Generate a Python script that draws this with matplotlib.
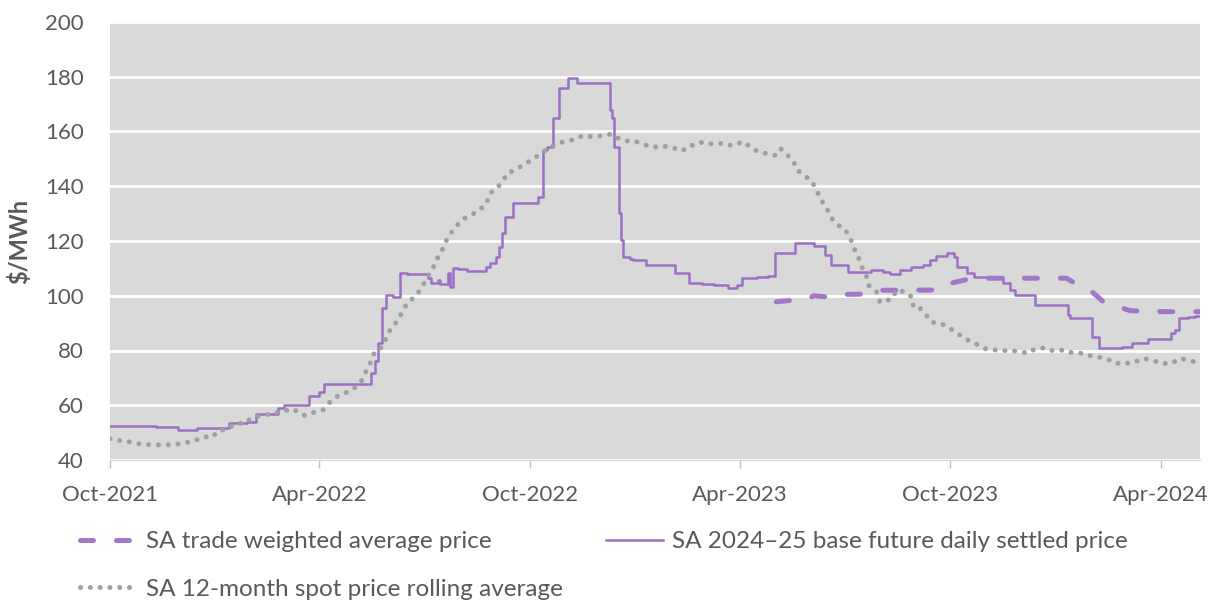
import matplotlib

matplotlib.use("Agg")
import matplotlib.dates as mdates
import matplotlib.pyplot as plt
import pandas as pd

# SA 2024-25 base future daily settled price (step changes)
future_dates = [
    "2021-10-01", "2021-11-10", "2021-11-29", "2021-12-16", "2022-01-12",
    "2022-01-28", "2022-02-05", "2022-02-24", "2022-03-01", "2022-03-23",
    "2022-04-01", "2022-04-05", "2022-05-16", "2022-05-19", "2022-05-22",
    "2022-05-25", "2022-05-29", "2022-06-04", "2022-06-10", "2022-06-16",
    "2022-06-29", "2022-07-04", "2022-07-07", "2022-07-13", "2022-07-15",
    "2022-07-22", "2022-07-23", "2022-07-26", "2022-07-30", "2022-08-07",
    "2022-08-24", "2022-08-27", "2022-09-01", "2022-09-04", "2022-09-07",
    "2022-09-09", "2022-09-16", "2022-10-08", "2022-10-12", "2022-10-16",
    "2022-10-21", "2022-10-26", "2022-11-03", "2022-11-11", "2022-12-09",
    "2022-12-11", "2022-12-13", "2022-12-17", "2022-12-19", "2022-12-21",
    "2022-12-27", "2022-12-29", "2023-01-10", "2023-02-04", "2023-02-16",
    "2023-02-27", "2023-03-10", "2023-03-22", "2023-03-30", "2023-04-03",
    "2023-04-16", "2023-04-26", "2023-05-02", "2023-05-19", "2023-06-05",
    "2023-06-14", "2023-06-19", "2023-07-04", "2023-07-24", "2023-08-04",
    "2023-08-10", "2023-08-18", "2023-08-28", "2023-09-07", "2023-09-13",
    "2023-09-19", "2023-09-28", "2023-10-04", "2023-10-07", "2023-10-16",
    "2023-10-22", "2023-11-16", "2023-11-22", "2023-11-26", "2023-12-14",
    "2024-01-11", "2024-01-13", "2024-02-01", "2024-02-07", "2024-02-27",
    "2024-03-07", "2024-03-21", "2024-04-10", "2024-04-13", "2024-04-17",
    "2024-04-25", "2024-05-01", "2024-05-05",
]
future_price = [
    52.5, 52.2, 51.0, 51.8, 53.4,
    53.9, 56.7, 58.9, 60.1, 63.5,
    65.0, 67.9, 71.7, 76.0, 82.6,
    95.7, 100.2, 99.6, 108.4, 108.1,
    107.8, 106.4, 104.8, 105.8, 104.4,
    108.3, 103.1, 110.0, 109.6, 109.0,
    110.6, 112.1, 114.3, 117.9, 123.0,
    128.9, 133.8, 136.0, 153.2, 154.2,
    164.8, 175.8, 179.4, 177.8, 167.9,
    164.8, 154.5, 130.1, 120.4, 114.3,
    113.6, 113.0, 111.2, 108.2, 104.5,
    104.2, 103.8, 103.0, 103.8, 106.6,
    107.0, 107.2, 115.5, 119.4, 118.2,
    114.9, 111.2, 108.8, 109.4, 108.8,
    107.8, 109.4, 110.5, 111.2, 113.1,
    114.5, 115.5, 114.3, 110.6, 108.4,
    107.0, 104.5, 102.1, 100.3, 96.6,
    93.0, 91.8, 85.0, 80.8, 81.4,
    82.6, 84.2, 86.3, 87.6, 91.8,
    92.2, 92.7, 92.7,
]

# SA trade weighted average price
trade_dates = [
    "2023-05-03", "2023-05-18", "2023-05-29", "2023-06-05", "2023-06-18",
    "2023-07-01", "2023-07-20", "2023-08-01", "2023-09-22", "2023-10-01",
    "2023-10-16", "2023-10-27", "2024-01-10", "2024-01-20", "2024-02-01",
    "2024-02-11", "2024-02-22", "2024-03-05", "2024-03-18", "2024-05-05",
]
trade_price = [
    97.8, 98.4, 98.8, 100.0, 99.5,
    100.5, 100.6, 102.0, 102.1, 104.5,
    106.0, 106.4, 106.4, 103.9, 101.5,
    97.8, 96.2, 94.6, 94.2, 94.2,
]

# SA 12-month spot price rolling average
spot_dates = [
    "2021-10-01", "2021-10-05", "2021-10-14", "2021-10-23", "2021-10-31",
    "2021-11-09", "2021-11-17", "2021-11-27", "2021-12-05", "2021-12-13",
    "2021-12-21", "2021-12-29", "2022-01-03", "2022-01-11", "2022-01-18",
    "2022-01-26", "2022-02-02", "2022-02-10", "2022-02-19", "2022-02-28",
    "2022-03-07", "2022-03-14", "2022-03-19", "2022-03-27", "2022-04-04",
    "2022-04-10", "2022-04-17", "2022-04-25", "2022-05-02", "2022-05-08",
    "2022-05-12", "2022-05-16", "2022-05-19", "2022-05-26", "2022-05-29",
    "2022-06-02", "2022-06-08", "2022-06-12", "2022-06-16", "2022-06-23",
    "2022-06-29", "2022-07-03", "2022-07-08", "2022-07-11", "2022-07-16",
    "2022-07-19", "2022-07-24", "2022-07-29", "2022-08-03", "2022-08-11",
    "2022-08-18", "2022-08-24", "2022-08-27", "2022-09-01", "2022-09-07",
    "2022-09-11", "2022-09-18", "2022-09-25", "2022-10-03", "2022-10-10",
    "2022-10-17", "2022-10-25", "2022-11-02", "2022-11-09", "2022-11-16",
    "2022-11-24", "2022-12-03", "2022-12-11", "2022-12-18", "2022-12-25",
    "2023-01-01", "2023-01-08", "2023-01-15", "2023-01-24", "2023-02-02",
    "2023-02-08", "2023-02-16", "2023-02-21", "2023-03-01", "2023-03-09",
    "2023-03-18", "2023-03-26", "2023-04-04", "2023-04-10", "2023-04-17",
    "2023-04-26", "2023-05-03", "2023-05-07", "2023-05-13", "2023-05-18",
    "2023-05-21", "2023-05-27", "2023-06-03", "2023-06-07", "2023-06-11",
    "2023-06-16", "2023-06-20", "2023-06-26", "2023-07-01", "2023-07-06",
    "2023-07-09", "2023-07-13", "2023-07-16", "2023-07-20", "2023-07-22",
    "2023-07-29", "2023-08-01", "2023-08-08", "2023-08-12", "2023-08-15",
    "2023-08-22", "2023-08-29", "2023-08-30", "2023-09-04", "2023-09-10",
    "2023-09-15", "2023-09-23", "2023-09-30", "2023-10-08", "2023-10-15",
    "2023-10-22", "2023-10-30", "2023-11-07", "2023-11-13", "2023-11-21",
    "2023-11-29", "2023-12-07", "2023-12-13", "2023-12-22", "2023-12-30",
    "2024-01-08", "2024-01-16", "2024-01-24", "2024-02-02", "2024-02-10",
    "2024-02-18", "2024-02-21", "2024-02-29", "2024-03-08", "2024-03-16",
    "2024-03-24", "2024-04-02", "2024-04-10", "2024-04-18", "2024-04-26",
    "2024-05-04",
]
spot_price = [
    47.8, 47.3, 47.0, 46.1, 45.7,
    45.5, 45.5, 45.7, 46.3, 46.9,
    48.5, 48.3, 50.7, 51.3, 53.4,
    53.4, 55.6, 56.2, 57.0, 57.6,
    58.7, 57.6, 56.3, 57.4, 58.3,
    61.1, 63.4, 64.8, 66.5, 69.2,
    72.9, 76.2, 79.6, 81.4, 84.8,
    88.0, 90.9, 94.2, 97.2, 99.7,
    102.9, 106.4, 109.4, 112.7, 116.1,
    119.3, 122.8, 125.5, 127.9, 129.5,
    131.4, 133.5, 137.4, 138.9, 141.6,
    144.7, 145.9, 147.8, 149.8, 151.8,
    153.9, 155.7, 156.5, 157.1, 158.6,
    158.1, 158.4, 159.1, 157.1, 156.5,
    156.3, 155.3, 154.2, 154.7, 154.2,
    152.9, 153.9, 155.7, 156.1, 155.3,
    155.7, 154.8, 156.3, 154.5, 152.6,
    151.8, 151.2, 153.6, 151.2, 149.0,
    145.9, 144.1, 141.6, 138.4, 135.0,
    131.6, 128.3, 125.7, 124.5, 121.4,
    117.7, 114.3, 110.6, 107.5, 103.8,
    101.5, 97.6, 98.4, 99.1, 102.0,
    101.5, 99.4, 95.8, 95.8, 93.0,
    90.3, 89.9, 88.3, 86.0, 84.1,
    82.8, 80.8, 80.2, 80.2, 79.8,
    79.8, 79.0, 80.4, 81.0, 79.8,
    80.2, 79.0, 79.0, 77.8, 77.4,
    76.3, 75.3, 75.3, 75.5, 77.1,
    76.5, 75.3, 75.3, 77.1, 76.3,
    75.5,
]

x_ticks = ["2021-10-01", "2022-04-01", "2022-10-01", "2023-04-01", "2023-10-01", "2024-04-01"]
y_ticks = [40, 60, 80, 100, 120, 140, 160, 180, 200]

PURPLE = "#9A6FC4"
GREY_DOTS = "#A0A0A0"
TEXT = "#595959"

plt.rcParams["font.family"] = ["Lato", "DejaVu Sans"]

fig = plt.figure(figsize=(12.16, 6.03), dpi=100)
ax = fig.add_axes([110 / 1216, 1 - 460 / 603, 1090 / 1216, 438 / 603])
ax.set_facecolor("#D9D9D9")

(future_line,) = ax.plot(
    pd.to_datetime(future_dates), future_price, drawstyle="steps-post",
    color=PURPLE, lw=1.8, zorder=3,
)
(trade_line,) = ax.plot(
    pd.to_datetime(trade_dates), trade_price, color="#9F78C8", lw=3.6,
    dashes=(2.6, 4.6), dash_capstyle="round", zorder=4,
)
(spot_line,) = ax.plot(
    pd.to_datetime(spot_dates), spot_price, color=GREY_DOTS, lw=3.6,
    linestyle=(0, (0.01, 1.95)), dash_capstyle="round", zorder=5,
)

ax.set_ylim(40, 200)
ax.set_yticks(y_ticks)
ax.set_xlim(pd.Timestamp("2021-10-01"), pd.Timestamp("2024-05-05"))
ax.set_xticks(pd.to_datetime(x_ticks))
ax.xaxis.set_major_formatter(mdates.DateFormatter("%b-%Y"))

ax.grid(axis="y", color="white", lw=2.0)
ax.set_axisbelow(True)
for side in ["top", "right", "left"]:
    ax.spines[side].set_visible(False)
ax.spines["bottom"].set_color("#D9D9D9")

ax.tick_params(axis="y", length=0, pad=19, labelsize=16, labelcolor=TEXT)
ax.tick_params(axis="x", length=6, width=1, color="#BFBFBF", pad=12,
               labelsize=16, labelcolor=TEXT)

ax.set_ylabel("$/MWh", fontsize=17, fontweight="bold", color=TEXT)
ax.yaxis.set_label_coords(-0.072, 0.5)

fig.legend(
    [trade_line, spot_line, future_line],
    [
        "SA trade weighted average price",
        "SA 12-month spot price rolling average",
        "SA 2024–25 base future daily settled price",
    ],
    ncol=2, loc="upper left", bbox_to_anchor=(80 / 1216, 1 - 531 / 603),
    frameon=False, fontsize=17.5, labelcolor=TEXT, handlelength=2.35,
    handletextpad=0.35, columnspacing=1.8, labelspacing=1.1,
    borderpad=0, borderaxespad=0,
)

fig.savefig("out.png", dpi=100)
